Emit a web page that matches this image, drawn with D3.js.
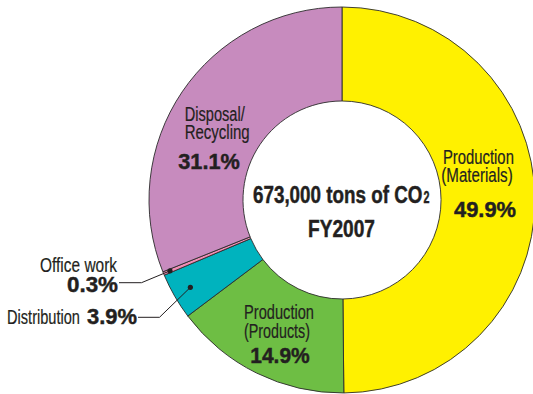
<!DOCTYPE html>
<html><head><meta charset="utf-8">
<script src="https://cdn.jsdelivr.net/npm/d3@7"></script>
<style>body{margin:0;background:#fff}svg{display:block}</style>
</head><body>
<svg id="c" width="533" height="394"></svg>
<script>
const categories = ["Production (Materials)", "Production (Products)", "Distribution", "Office work", "Disposal/Recycling"];
const values = [49.9, 14.9, 3.9, 0.3, 31.1];
const colors = ["#FFF100", "#6EBE44", "#00B3BE", "#F08DB5", "#C78BBE"];
const centerTitle = "673,000 tons of CO";
const centerSub = "2";
const centerYear = "FY2007";

const cx = 342, cy = 200, R = 193, r0 = 99;
const FONT = "'Liberation Sans', Arial, Helvetica, sans-serif";
const TXT = "#231f20";
const svg = d3.select("#c");
const g = svg.append("g").attr("transform", `translate(${cx},${cy})`);
const pie = d3.pie().sort(null).value(d => d)(values);
const arc = d3.arc().innerRadius(r0).outerRadius(R);
g.selectAll("path").data(pie).join("path")
  .attr("d", arc).attr("fill", (d, i) => colors[i])
  .attr("stroke", "#2b2b2b").attr("stroke-width", 0.9);

const pct = i => values[i].toFixed(1) + "%";
// label layout: [text, x, baseline y, font size, bold, anchor, target width]
const labels = [
  ["Production", 478.4, 164, 19.5, false, "middle", 71],
  ["(Materials)", 477, 182.3, 19.5, false, "middle", 71.5],
  [pct(0), 485, 217.3, 21.5, true, "middle", 62],
  ["Disposal/", 184.7, 120.7, 19.5, false, "start", 60],
  ["Recycling", 184.7, 139.3, 19.5, false, "start", 65],
  [pct(4), 209, 169.3, 21.5, true, "middle", 61.5],
  ["Production", 279, 319, 19.5, false, "middle", 70],
  ["(Products)", 277, 338, 19.5, false, "middle", 66],
  [pct(1), 280, 363, 21.5, true, "middle", 59.5],
  [centerTitle, 253, 203.3, 23, true, "start", 169.5],
  [centerSub, 423.5, 203.3, 16, true, "start", 6],
  [centerYear, 341.5, 236.7, 23, true, "middle", 67],
  [categories[3], 117, 271.7, 19.5, false, "end", 77],
  [pct(3), 118, 291.7, 21.5, true, "end", 51],
  [categories[2], 80, 324.3, 19.5, false, "end", 73],
  [pct(2), 137, 324.3, 21.5, true, "end", 50]
];
const tg = svg.append("g");
labels.forEach(d => {
  const t = tg.append("text").attr("x", 0).attr("y", 0)
    .attr("font-family", FONT).attr("fill", TXT)
    .attr("stroke", TXT).attr("stroke-width", d[4] ? 0.45 : 0.2)
    .attr("font-size", d[3]).attr("font-weight", d[4] ? "bold" : "normal")
    .attr("text-anchor", d[5]).text(d[0]);
  const nat = t.node().getComputedTextLength() || d[6];
  t.attr("transform", `translate(${d[1]},${d[2]}) scale(${d[6] / nat},1)`);
});

// leader lines with dots placed on their slices
const lg = svg.append("g");
function leader(i, rr, pts) {
  const a = (pie[i].startAngle + pie[i].endAngle) / 2;
  const dot = [cx + rr * Math.sin(a), cy - rr * Math.cos(a)];
  lg.append("path").attr("d", d3.line()(pts.concat([dot]))).attr("fill", "none")
    .attr("stroke", TXT).attr("stroke-width", 1);
  lg.append("circle").attr("cx", dot[0]).attr("cy", dot[1]).attr("r", 2.6).attr("fill", TXT);
}
leader(3, R - 7, [[119, 282.7], [141.5, 282.7]]);
leader(2, R - 18, [[138, 317.3], [159.5, 317.3]]);
</script>
</body></html>
